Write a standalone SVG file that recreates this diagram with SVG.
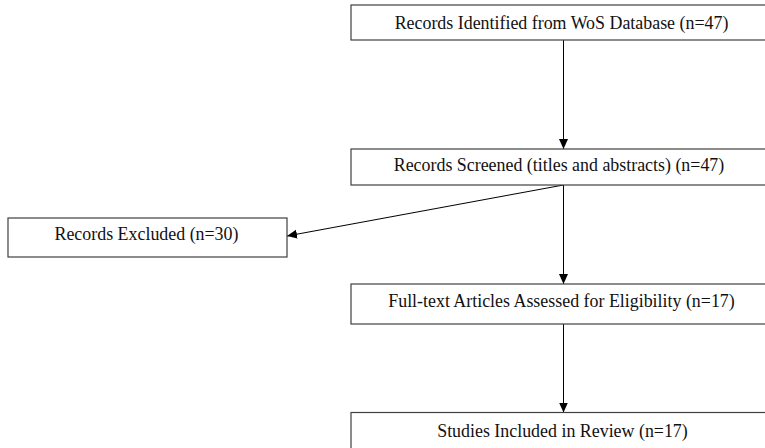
<svg xmlns="http://www.w3.org/2000/svg" width="765" height="448" viewBox="0 0 765 448">
<style>
.box{fill:#fff;stroke:#404040;stroke-width:1.2}
.t{font-family:"Liberation Serif","Times New Roman",serif;font-size:17.9px;fill:#111;text-anchor:middle}
.c{stroke:#000;stroke-width:1;fill:none;marker-end:url(#ah)}
</style>
<defs>
<marker id="ah" markerWidth="10" markerHeight="10" viewBox="0 0 10 10" refX="10" refY="5" orient="auto" markerUnits="userSpaceOnUse">
<path d="M0,0.5 L10,5 L0,9.5 Z" fill="#000"/>
</marker>
</defs>
<rect width="765" height="448" fill="#fff"/>
<g id="connectors">
<line class="c" x1="563.5" y1="40" x2="563.5" y2="149"/>
<line class="c" x1="563.5" y1="185" x2="563.5" y2="284"/>
<line class="c" x1="563.5" y1="324" x2="563.5" y2="412.5"/>
<line class="c" x1="563.5" y1="185" x2="287" y2="236"/>
</g>
<g id="n1"><rect class="box" x="351" y="5" width="424" height="35"/><text class="t" x="561.5" y="29">Records Identified from WoS Database (n=47)</text></g>
<g id="n2"><rect class="box" x="351" y="149" width="424" height="36"/><text class="t" x="559" y="171">Records Screened (titles and abstracts) (n=47)</text></g>
<g id="n3"><rect class="box" x="8" y="218" width="279" height="39"/><text class="t" x="146.5" y="240">Records Excluded (n=30)</text></g>
<g id="n4"><rect class="box" x="351" y="284" width="424" height="40"/><text class="t" x="561.5" y="307">Full-text Articles Assessed for Eligibility (n=17)</text></g>
<g id="n5"><rect class="box" x="351" y="412.5" width="424" height="45"/><text class="t" x="562.5" y="437">Studies Included in Review (n=17)</text></g>
</svg>
